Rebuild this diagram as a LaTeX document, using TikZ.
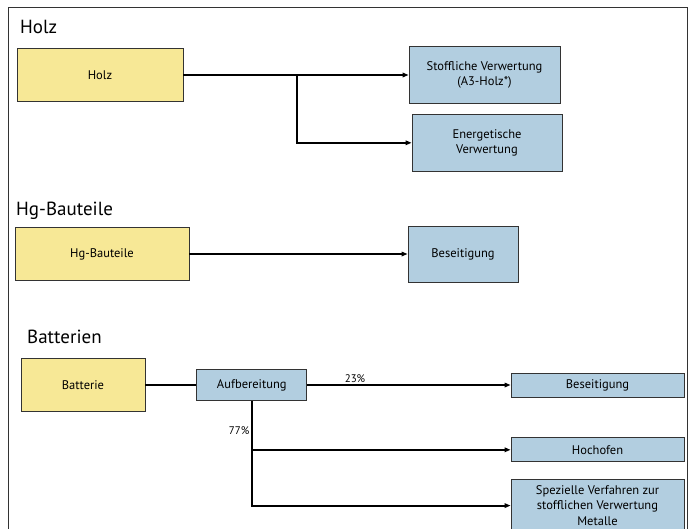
\documentclass[tikz,border=0pt]{standalone}
\usepackage{fontspec}
\setmainfont{PT Sans}
\usetikzlibrary{arrows.meta, positioning}
\definecolor{sourceyellow}{RGB}{247,232,150}
\definecolor{pathblue}{RGB}{178,206,224}
\tikzset{
  % Box styles
  source/.style={rectangle, draw=black!80, line width=0.8pt, fill=sourceyellow, inner sep=0pt, text centered, font=\fontsize{12.5pt}{15.5pt}\selectfont},
  target/.style={rectangle, draw=black!80, line width=0.8pt, fill=pathblue, inner sep=0pt, align=center, font=\fontsize{12.5pt}{15.5pt}\selectfont},
  heading/.style={anchor=base west, inner sep=0pt, font=\fontsize{19pt}{23pt}\selectfont},
  share/.style={inner sep=1.5pt, font=\fontsize{11pt}{13pt}\selectfont},
  % Connector styles
  arrow/.style={-{Triangle[length=6pt, width=4.5pt]}, line width=1.8pt},
  link/.style={line width=1.8pt},
  frame/.style={draw=black!80, line width=0.8pt},
}
\begin{document}
\begin{tikzpicture}[x=1pt, y=-1pt]
    \useasboundingbox (0,0) rectangle (690,528);
    \clip (0,0) rectangle (690,528);

    % Frame
    \draw[frame] (8,7) rectangle (687,600);

    % === Holz ===
    \node[heading] (hHolz) at (20,33) {Holz};
    \node[source, minimum width=166pt, minimum height=53pt] (holz) at (100,75) {Holz};
    \node[target, minimum width=151pt, minimum height=57pt] (stoff) at (484.5,75) {Stoffliche Verwertung\\(A3-Holz*)};
    \node[target, minimum width=150pt, minimum height=57pt, below=10pt of stoff, xshift=2.5pt] (energ) {Energetische\\Verwertung};
    \coordinate (holzfork) at (297,75);

    \draw[arrow] (holz) -- (stoff);
    \draw[arrow] (holzfork) |- (energ.west);

    % === Hg-Bauteile ===
    \node[heading] (hHg) at (16,215) {Hg-Bauteile};
    \node[source, minimum width=174pt, minimum height=53pt] (hg) at (102,254) {Hg-Bauteile};
    \node[target, minimum width=110pt, minimum height=56pt] (hgbes) at (463,254) {Beseitigung};

    \draw[arrow] (hg) -- (hgbes);

    % === Batterien ===
    \node[heading] (hBatt) at (27,343) {Batterien};
    \node[source, minimum width=124pt, minimum height=53pt] (batt) at (83,385) {Batterie};
    \node[target, minimum width=110pt, minimum height=31pt, right=51pt of batt] (aufb) {Aufbereitung};
    \node[target, minimum width=173pt, minimum height=24pt] (battbes) at (597.5,385) {Beseitigung};
    \node[target, minimum width=173pt, minimum height=24pt, below=40pt of battbes] (hoch) {Hochofen};
    \node[target, minimum width=173pt, minimum height=52pt, below=17pt of hoch] (spez) {Spezielle Verfahren zur\\stofflichen Verwertung\\Metalle};

    \draw[link] (batt) -- (aufb);
    \draw[arrow] (aufb) -- node[share, above, pos=.235] {23\%} (battbes);
    \draw[arrow] (aufb.south) |- node[share, left, pos=.14] {77\%} (spez.west);
    \draw[arrow] (aufb.south |- hoch.west) -- (hoch.west);
\end{tikzpicture}
\end{document}
